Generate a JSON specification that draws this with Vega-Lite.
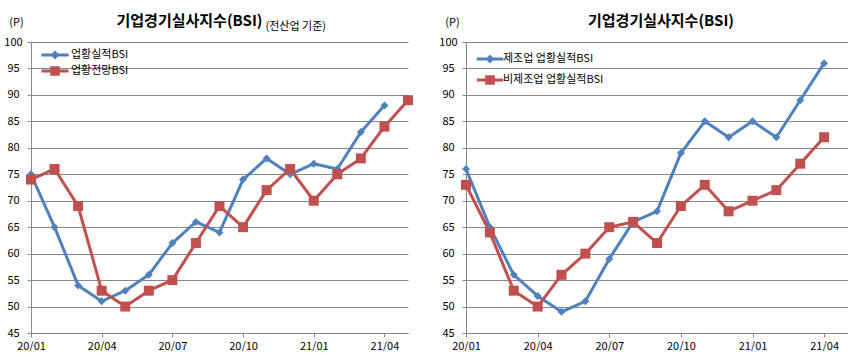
{
  "$schema": "https://vega.github.io/schema/vega-lite/v6.json",
  "background": "white",
  "padding": {"left": 3, "top": 14, "right": 0, "bottom": 0},
  "bounds": "flush",
  "spacing": 58,
  "config": {
    "font": "Noto Sans CJK KR",
    "view": {"stroke": null},
    "axis": {
      "labelFont": "Noto Sans CJK KR",
      "labelFontSize": 11,
      "labelColor": "#000000",
      "domainColor": "#868686",
      "gridColor": "#868686",
      "tickColor": "#868686",
      "tickSize": 4,
      "titleColor": "#000000",
      "titleFont": "Noto Sans CJK KR"
    },
    "legend": {"labelFont": "Noto Sans CJK KR", "labelFontSize": 11, "labelColor": "#000000", "padding": 0}
  },
  "datasets": {
    "left": [
      {"month": "20/01", "series": "업황실적BSI", "value": 75},
      {"month": "20/02", "series": "업황실적BSI", "value": 65},
      {"month": "20/03", "series": "업황실적BSI", "value": 54},
      {"month": "20/04", "series": "업황실적BSI", "value": 51},
      {"month": "20/05", "series": "업황실적BSI", "value": 53},
      {"month": "20/06", "series": "업황실적BSI", "value": 56},
      {"month": "20/07", "series": "업황실적BSI", "value": 62},
      {"month": "20/08", "series": "업황실적BSI", "value": 66},
      {"month": "20/09", "series": "업황실적BSI", "value": 64},
      {"month": "20/10", "series": "업황실적BSI", "value": 74},
      {"month": "20/11", "series": "업황실적BSI", "value": 78},
      {"month": "20/12", "series": "업황실적BSI", "value": 75},
      {"month": "21/01", "series": "업황실적BSI", "value": 77},
      {"month": "21/02", "series": "업황실적BSI", "value": 76},
      {"month": "21/03", "series": "업황실적BSI", "value": 83},
      {"month": "21/04", "series": "업황실적BSI", "value": 88},
      {"month": "20/01", "series": "업황전망BSI", "value": 74},
      {"month": "20/02", "series": "업황전망BSI", "value": 76},
      {"month": "20/03", "series": "업황전망BSI", "value": 69},
      {"month": "20/04", "series": "업황전망BSI", "value": 53},
      {"month": "20/05", "series": "업황전망BSI", "value": 50},
      {"month": "20/06", "series": "업황전망BSI", "value": 53},
      {"month": "20/07", "series": "업황전망BSI", "value": 55},
      {"month": "20/08", "series": "업황전망BSI", "value": 62},
      {"month": "20/09", "series": "업황전망BSI", "value": 69},
      {"month": "20/10", "series": "업황전망BSI", "value": 65},
      {"month": "20/11", "series": "업황전망BSI", "value": 72},
      {"month": "20/12", "series": "업황전망BSI", "value": 76},
      {"month": "21/01", "series": "업황전망BSI", "value": 70},
      {"month": "21/02", "series": "업황전망BSI", "value": 75},
      {"month": "21/03", "series": "업황전망BSI", "value": 78},
      {"month": "21/04", "series": "업황전망BSI", "value": 84},
      {"month": "21/05", "series": "업황전망BSI", "value": 89}
    ],
    "right": [
      {"month": "20/01", "series": "제조업 업황실적BSI", "value": 76},
      {"month": "20/02", "series": "제조업 업황실적BSI", "value": 65},
      {"month": "20/03", "series": "제조업 업황실적BSI", "value": 56},
      {"month": "20/04", "series": "제조업 업황실적BSI", "value": 52},
      {"month": "20/05", "series": "제조업 업황실적BSI", "value": 49},
      {"month": "20/06", "series": "제조업 업황실적BSI", "value": 51},
      {"month": "20/07", "series": "제조업 업황실적BSI", "value": 59},
      {"month": "20/08", "series": "제조업 업황실적BSI", "value": 66},
      {"month": "20/09", "series": "제조업 업황실적BSI", "value": 68},
      {"month": "20/10", "series": "제조업 업황실적BSI", "value": 79},
      {"month": "20/11", "series": "제조업 업황실적BSI", "value": 85},
      {"month": "20/12", "series": "제조업 업황실적BSI", "value": 82},
      {"month": "21/01", "series": "제조업 업황실적BSI", "value": 85},
      {"month": "21/02", "series": "제조업 업황실적BSI", "value": 82},
      {"month": "21/03", "series": "제조업 업황실적BSI", "value": 89},
      {"month": "21/04", "series": "제조업 업황실적BSI", "value": 96},
      {"month": "20/01", "series": "비제조업 업황실적BSI", "value": 73},
      {"month": "20/02", "series": "비제조업 업황실적BSI", "value": 64},
      {"month": "20/03", "series": "비제조업 업황실적BSI", "value": 53},
      {"month": "20/04", "series": "비제조업 업황실적BSI", "value": 50},
      {"month": "20/05", "series": "비제조업 업황실적BSI", "value": 56},
      {"month": "20/06", "series": "비제조업 업황실적BSI", "value": 60},
      {"month": "20/07", "series": "비제조업 업황실적BSI", "value": 65},
      {"month": "20/08", "series": "비제조업 업황실적BSI", "value": 66},
      {"month": "20/09", "series": "비제조업 업황실적BSI", "value": 62},
      {"month": "20/10", "series": "비제조업 업황실적BSI", "value": 69},
      {"month": "20/11", "series": "비제조업 업황실적BSI", "value": 73},
      {"month": "20/12", "series": "비제조업 업황실적BSI", "value": 68},
      {"month": "21/01", "series": "비제조업 업황실적BSI", "value": 70},
      {"month": "21/02", "series": "비제조업 업황실적BSI", "value": 72},
      {"month": "21/03", "series": "비제조업 업황실적BSI", "value": 77},
      {"month": "21/04", "series": "비제조업 업황실적BSI", "value": 82}
    ]
  },
  "resolve": {"scale": {"color": "independent", "x": "independent", "y": "independent"}, "legend": {"color": "independent"}},
  "hconcat": [
    {
      "width": 377,
      "height": 291,
      "data": {"name": "left"},
      "title": {"text": "기업경기실사지수(BSI)", "fontSize": 15, "fontWeight": "bold", "color": "#000000", "anchor": "middle", "dx": -30, "baseline": "alphabetic", "offset": -25},
      "encoding": {
        "x": {
          "field": "month", "type": "ordinal",
          "scale": {"type": "point", "padding": 0, "domain": ["20/01","20/02","20/03","20/04","20/05","20/06","20/07","20/08","20/09","20/10","20/11","20/12","21/01","21/02","21/03","21/04","21/05"]},
          "axis": {"values": ["20/01","20/04","20/07","20/10","21/01","21/04"], "labelAngle": 0, "labelPadding": 3, "grid": false,
                   "title": "(전산업 기준)", "titleX": 234, "titleY": -304, "titleAlign": "left", "titleBaseline": "alphabetic", "titleFontSize": 11, "titleFontWeight": "normal"}
        },
        "y": {
          "field": "value", "type": "quantitative",
          "scale": {"domain": [45, 100], "nice": false, "zero": false},
          "axis": {"values": [45,50,55,60,65,70,75,80,85,90,95,100], "grid": true, "labelAlign": "center", "labelPadding": 14, "labelBaseline": "middle",
                   "title": "(P)", "titleAngle": 0, "titleX": -15, "titleY": -20, "titleAlign": "center", "titleBaseline": "middle", "titleFontSize": 11, "titleFontWeight": "normal"}
        },
        "color": {
          "field": "series", "type": "nominal",
          "scale": {"domain": ["업황실적BSI", "업황전망BSI"], "range": ["#4F81BD", "#C0504D"]},
          "legend": {"orient": "none", "legendX": 16, "legendY": 5, "title": null, "symbolSize": 256, "labelOffset": 8, "rowPadding": 3,
                     "encode": {"symbols": {"update": {
                       "shape": {"signal": "datum.index === 0 ? 'M-1.7,-0.19H1.7V0.19H-1.7Z M0,-0.55L0.55,0L0,0.55L-0.55,0Z' : 'M-1.7,-0.19H1.7V0.19H-1.7Z M-0.6,-0.6H0.6V0.6H-0.6Z'"},
                       "fill": {"signal": "datum.index === 0 ? '#4F81BD' : '#C0504D'"},
                       "fillOpacity": {"value": 1},
                       "strokeWidth": {"value": 0}
                     }}}}
        }
      },
      "layer": [
        {"mark": {"type": "line", "strokeWidth": 3, "strokeJoin": "round"}},
        {"transform": [{"filter": "datum.series === '업황실적BSI'"}], "mark": {"type": "point", "shape": "diamond", "filled": true, "opacity": 1, "size": 64}},
        {"transform": [{"filter": "datum.series === '업황전망BSI'"}], "mark": {"type": "point", "shape": "square", "filled": true, "opacity": 1, "size": 100}}
      ]
    },
    {
      "width": 382,
      "height": 291,
      "data": {"name": "right"},
      "title": {"text": "기업경기실사지수(BSI)", "fontSize": 15, "fontWeight": "bold", "color": "#000000", "anchor": "middle", "dx": 4, "baseline": "alphabetic", "offset": -25},
      "encoding": {
        "x": {
          "field": "month", "type": "ordinal",
          "scale": {"type": "point", "padding": 0, "domain": ["20/01","20/02","20/03","20/04","20/05","20/06","20/07","20/08","20/09","20/10","20/11","20/12","21/01","21/02","21/03","21/04","21/05"]},
          "axis": {"values": ["20/01","20/04","20/07","20/10","21/01","21/04"], "labelAngle": 0, "labelPadding": 3, "grid": false, "title": null}
        },
        "y": {
          "field": "value", "type": "quantitative",
          "scale": {"domain": [45, 100], "nice": false, "zero": false},
          "axis": {"values": [45,50,55,60,65,70,75,80,85,90,95,100], "grid": true, "labelAlign": "center", "labelPadding": 14, "labelBaseline": "middle",
                   "title": "(P)", "titleAngle": 0, "titleX": -14, "titleY": -20, "titleAlign": "center", "titleBaseline": "middle", "titleFontSize": 11, "titleFontWeight": "normal"}
        },
        "color": {
          "field": "series", "type": "nominal",
          "scale": {"domain": ["제조업 업황실적BSI", "비제조업 업황실적BSI"], "range": ["#4F81BD", "#C0504D"]},
          "legend": {"orient": "none", "legendX": 16, "legendY": 9, "title": null, "symbolSize": 256, "labelOffset": 5, "rowPadding": 8,
                     "encode": {"symbols": {"update": {
                       "shape": {"signal": "datum.index === 0 ? 'M-1.65,-0.19H1.65V0.19H-1.65Z M0,-0.55L0.55,0L0,0.55L-0.55,0Z' : 'M-1.65,-0.19H1.65V0.19H-1.65Z M-0.6,-0.6H0.6V0.6H-0.6Z'"},
                       "fill": {"signal": "datum.index === 0 ? '#4F81BD' : '#C0504D'"},
                       "fillOpacity": {"value": 1},
                       "strokeWidth": {"value": 0}
                     }}}}
        }
      },
      "layer": [
        {"mark": {"type": "line", "strokeWidth": 3, "strokeJoin": "round"}},
        {"transform": [{"filter": "datum.series === '제조업 업황실적BSI'"}], "mark": {"type": "point", "shape": "diamond", "filled": true, "opacity": 1, "size": 64}},
        {"transform": [{"filter": "datum.series === '비제조업 업황실적BSI'"}], "mark": {"type": "point", "shape": "square", "filled": true, "opacity": 1, "size": 100}}
      ]
    }
  ]
}
